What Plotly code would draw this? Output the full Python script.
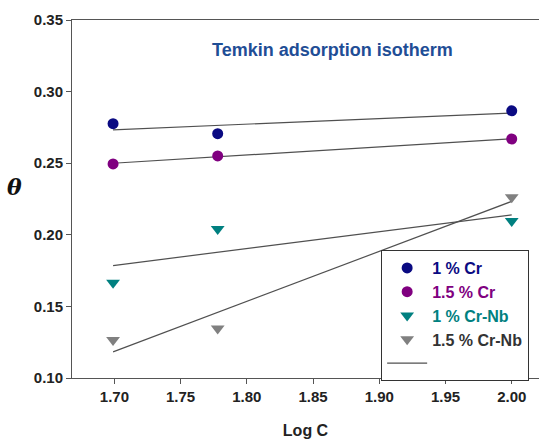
import numpy as np
import plotly.graph_objects as go

log_c = [1.699, 1.778, 2.0]
cr_1 = [0.2776, 0.2706, 0.2866]
cr_15 = [0.2495, 0.2551, 0.2669]
crnb_1 = [0.1666, 0.2040, 0.2096]
crnb_15 = [0.1265, 0.1346, 0.2263]

series = [
    ("1 % Cr", cr_1, "#0a0a82", "circle"),
    ("1.5 % Cr", cr_15, "#800080", "circle"),
    ("1 % Cr-Nb", crnb_1, "#008080", "triangle-down"),
    ("1.5 % Cr-Nb", crnb_15, "#808080", "triangle-down"),
]
label_colors = ["#0a0a82", "#800080", "#008080", "#333333"]

fig = go.Figure()

# fit lines (single legend entry)
fx, fy = [], []
x = np.array(log_c)
for _, ys, _, _ in series:
    k, b = np.polyfit(x, np.array(ys), 1)
    fx += [x[0], x[-1], None]
    fy += [k * x[0] + b, k * x[-1] + b, None]

fig.add_trace(go.Scatter(
    x=fx, y=fy, mode="lines", line=dict(color="#505050", width=1.2),
    name=" ", showlegend=True, legendrank=2000,
))

for i, ((name, ys, col, sym), lc) in enumerate(zip(series, label_colors)):
    fig.add_trace(go.Scatter(
        x=log_c, y=ys, mode="markers",
        marker=dict(color=col, symbol=sym, size=11 if sym == "circle" else 12, line=dict(width=0)),
        name=f"<span style='color:{lc}'><b>{name}</b></span>",
        legendrank=1000 + i,
    ))

fig.update_layout(
    width=539, height=442,
    margin=dict(l=72, r=0, t=20, b=64),
    plot_bgcolor="white", paper_bgcolor="white",
    font=dict(family="Liberation Sans, Arial, sans-serif", size=15, color="#222"),
    showlegend=True,
    legend=dict(
        x=0.662, y=0.3575, xanchor="left", yanchor="top",
        bordercolor="#333", borderwidth=1, bgcolor="white",
        font=dict(size=16), itemwidth=40,
    ),
    annotations=[
        dict(text="<b>Temkin adsorption isotherm</b>", x=(332 - 72) / 467, y=(378 - 50) / 358,
             xref="paper", yref="paper", showarrow=False, xanchor="center", yanchor="middle",
             font=dict(size=18, color="#1f4e96")),
        dict(text="<b><i>θ</i></b>", x=(14 - 72) / 467, y=(378 - 187) / 358, xref="paper", yref="paper",
             showarrow=False, xanchor="center", yanchor="middle",
             font=dict(size=22, color="#111", family="DejaVu Serif, serif")),
    ],
)
fig.update_xaxes(
    range=[1.668, 2.0206], tickvals=[1.70, 1.75, 1.80, 1.85, 1.90, 1.95, 2.00],
    ticktext=["<b>1.70</b>", "<b>1.75</b>", "<b>1.80</b>", "<b>1.85</b>", "<b>1.90</b>", "<b>1.95</b>", "<b>2.00</b>"],
    tickfont=dict(size=15, color="#222"),
    showline=True, linecolor="#555", linewidth=1, mirror=True,
    ticks="outside", ticklen=5, tickcolor="#555", showgrid=False, zeroline=False,
    title=dict(text="<b>Log C</b>", font=dict(size=16), standoff=20),
)
fig.update_yaxes(
    range=[0.10, 0.35], tickvals=[0.10, 0.15, 0.20, 0.25, 0.30, 0.35],
    ticktext=["<b>0.10</b>", "<b>0.15</b>", "<b>0.20</b>", "<b>0.25</b>", "<b>0.30</b>", "<b>0.35</b>"],
    tickfont=dict(size=15, color="#222"),
    showline=True, linecolor="#555", linewidth=1, mirror=True,
    ticks="outside", ticklen=5, tickcolor="#555", showgrid=False, zeroline=False,
)

fig.write_html("out.html")
